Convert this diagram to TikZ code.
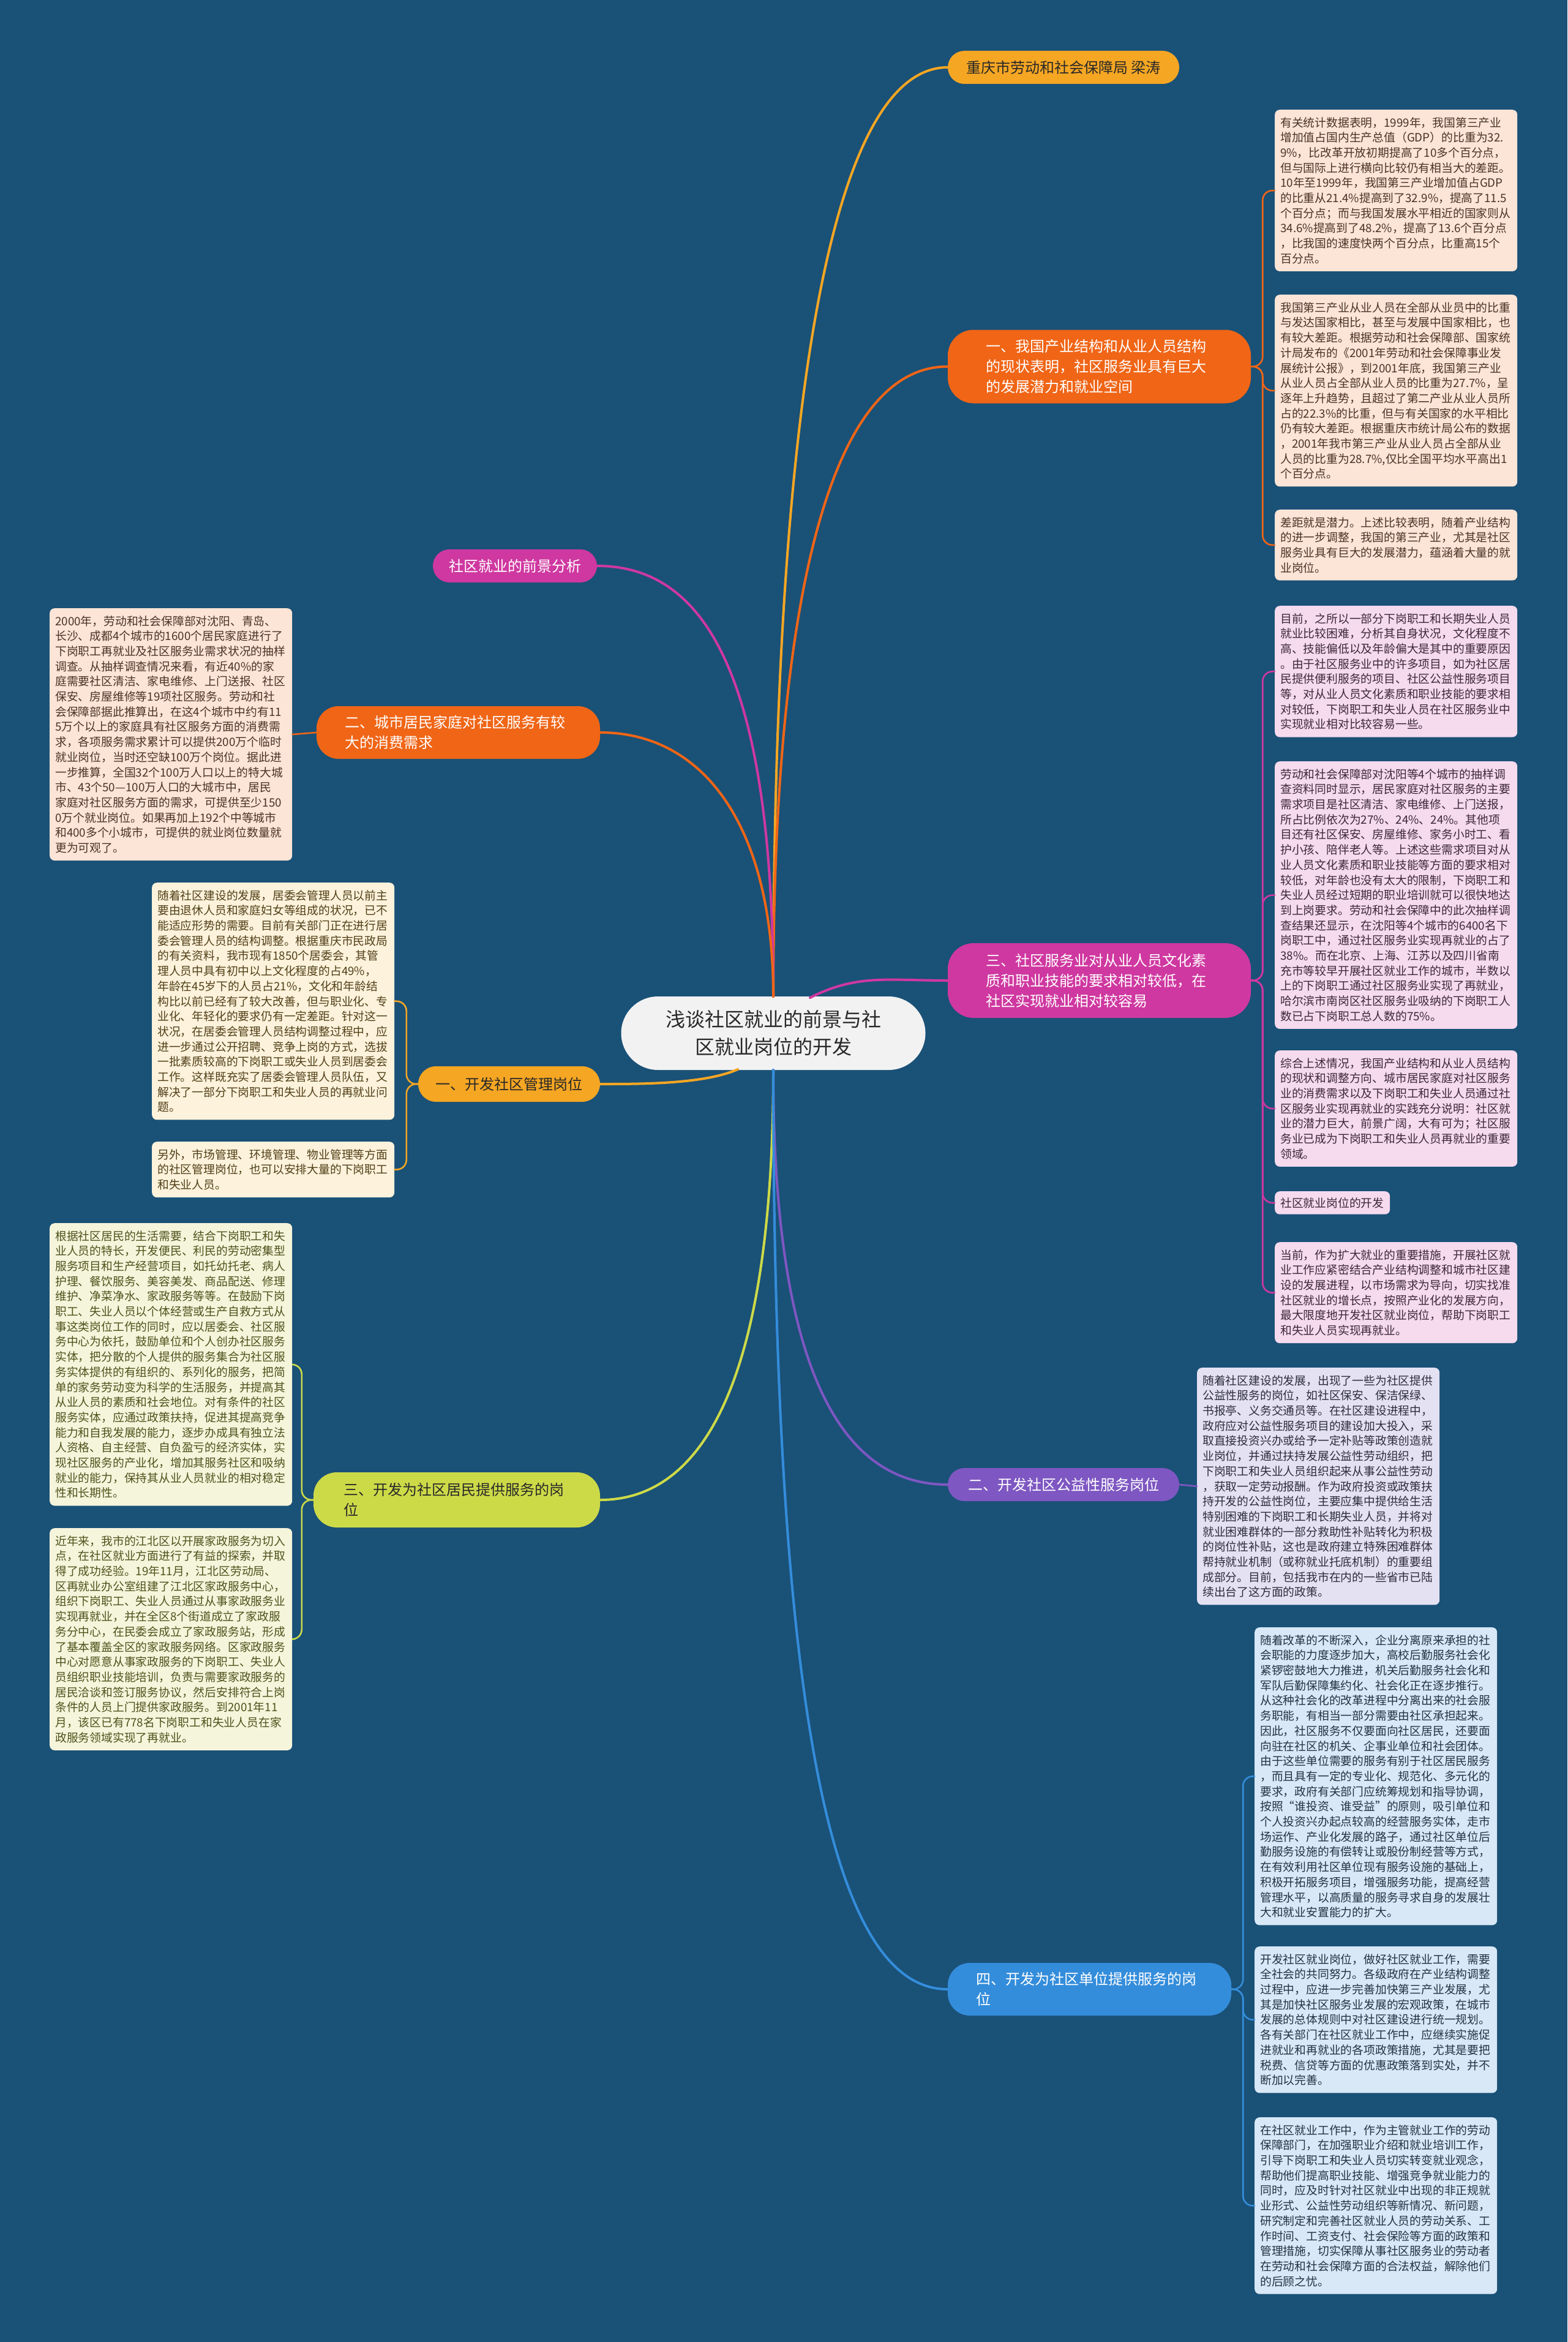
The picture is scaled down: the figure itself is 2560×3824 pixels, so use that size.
\documentclass[tikz,border=0pt]{standalone}
\usepackage{fontspec}
\setmainfont{Noto Sans CJK SC}
\usetikzlibrary{calc}
\definecolor{bg}{RGB}{26,81,119}
\definecolor{camber}{RGB}{245,166,35}
\definecolor{corg}{RGB}{240,101,22}
\definecolor{cmag}{RGB}{207,56,160}
\definecolor{clime}{RGB}{205,218,72}
\definecolor{cpur}{RGB}{126,87,194}
\definecolor{cblue}{RGB}{52,141,219}
\definecolor{fpeach}{RGB}{252,228,214}
\definecolor{fcream}{RGB}{253,242,219}
\definecolor{fivory}{RGB}{245,245,220}
\definecolor{fpink}{RGB}{246,218,238}
\definecolor{flav}{RGB}{228,225,243}
\definecolor{flblue}{RGB}{216,232,246}
\definecolor{tpeach}{RGB}{74,50,36}
\definecolor{tcream}{RGB}{80,64,24}
\definecolor{tivory}{RGB}{78,82,26}
\definecolor{tpink}{RGB}{60,40,56}
\definecolor{tlav}{RGB}{45,45,60}
\definecolor{tlblue}{RGB}{35,50,68}
\definecolor{cdark}{RGB}{40,40,40}
\tikzset{
  box/.style={rounded corners=8pt, text width=378pt, align=left, inner xsep=9pt, inner ysep=12pt,
    font=\fontsize{18.8}{24.7}\selectfont, anchor=north west},
  boxO/.style={box, fill=fpeach, text=tpeach},
  boxA/.style={box, fill=fcream, text=tcream},
  boxY/.style={box, fill=fivory, text=tivory},
  boxM/.style={box, fill=fpink, text=tpink},
  boxP/.style={box, fill=flav, text=tlav},
  boxB/.style={box, fill=flblue, text=tlblue},
  pill/.style={align=left, inner sep=0pt, font=\fontsize{24}{33}\selectfont},
  mainline/.style={line width=4pt, line cap=round},
  subline/.style={line width=2.6pt, rounded corners=16pt, line cap=round},
}
\begin{document}
\begin{tikzpicture}[x=1pt,y=-1pt]
\useasboundingbox (0,0) rectangle (2560,3824);
\fill[bg] (0,0) rectangle (2560,3824);

% ---------- center ----------
\node[fill={rgb,255:red,242;green,242;blue,242}, rounded corners=60pt, minimum width=497pt, minimum height=120pt,
  align=center, font=\fontsize{32}{45}\selectfont, text=cdark] (c) at (1263,1687)
  {浅谈社区就业的前景与社\\区就业岗位的开发};
\coordinate (ct) at (1263,1627);
\coordinate (cb) at (1263,1747);
\coordinate (ctr) at (1323,1629);
\coordinate (cbl) at (1205,1746);

% ---------- branches ----------
\node[pill, fill=camber, text=cdark, minimum width=378pt, minimum height=54pt, rounded corners=27pt] (p0) at (1737,110)
  {重庆市劳动和社会保障局 梁涛};
\node[pill, fill=corg, text=white, minimum width=495pt, minimum height=120pt, rounded corners=42pt, text width=370pt] (p1) at (1795.5,598.5)
  {一、我国产业结构和从业人员结构\\的现状表明，社区服务业具有巨大\\的发展潜力和就业空间};
\node[pill, fill=cmag, text=white, minimum width=268pt, minimum height=54pt, rounded corners=27pt] (pq) at (841,924)
  {社区就业的前景分析};
\node[pill, fill=corg, text=white, minimum width=463pt, minimum height=86pt, rounded corners=36pt, text width=370pt] (p2) at (748.5,1196)
  {二、城市居民家庭对社区服务有较\\大的消费需求};
\node[pill, fill=cmag, text=white, minimum width=495pt, minimum height=122pt, rounded corners=42pt, text width=370pt] (p3) at (1795.5,1601)
  {三、社区服务业对从业人员文化素\\质和职业技能的要求相对较低，在\\社区实现就业相对较容易};
\node[pill, fill=camber, text=cdark, minimum width=297pt, minimum height=58pt, rounded corners=29pt] (pa) at (831.5,1770)
  {一、开发社区管理岗位};
\node[pill, fill=clime, text=cdark, minimum width=468pt, minimum height=90pt, rounded corners=38pt, text width=370pt] (py) at (746,2449)
  {三、开发为社区居民提供服务的岗\\位};
\node[pill, fill=cpur, text=white, minimum width=378pt, minimum height=54pt, rounded corners=27pt] (pp) at (1737,2424)
  {二、开发社区公益性服务岗位};
\node[pill, fill=cblue, text=white, minimum width=463pt, minimum height=86pt, rounded corners=36pt, text width=370pt] (pb) at (1779.5,3248)
  {四、开发为社区单位提供服务的岗\\位};

% ---------- leaf boxes ----------
\node[boxO] (o1) at (2082,179) {有关统计数据表明，1999年，我国第三产业\\增加值占国内生产总值（GDP）的比重为32.\\9\%，比改革开放初期提高了10多个百分点，\\但与国际上进行横向比较仍有相当大的差距。\\10年至1999年，我国第三产业增加值占GDP\\的比重从21.4\%提高到了32.9\%，提高了11.5\\个百分点；而与我国发展水平相近的国家则从\\34.6\%提高到了48.2\%，提高了13.6个百分点\\，比我国的速度快两个百分点，比重高15个\\百分点。};
\node[boxO] (o2) at (2082,481) {我国第三产业从业人员在全部从业员中的比重\\与发达国家相比，甚至与发展中国家相比，也\\有较大差距。根据劳动和社会保障部、国家统\\计局发布的《2001年劳动和社会保障事业发\\展统计公报》，到2001年底，我国第三产业\\从业人员占全部从业人员的比重为27.7\%，呈\\逐年上升趋势，且超过了第二产业从业人员所\\占的22.3\%的比重，但与有关国家的水平相比\\仍有较大差距。根据重庆市统计局公布的数据\\，2001年我市第三产业从业人员占全部从业\\人员的比重为28.7\%,仅比全国平均水平高出1\\个百分点。};
\node[boxO] (o3) at (2082,832) {差距就是潜力。上述比较表明，随着产业结构\\的进一步调整，我国的第三产业，尤其是社区\\服务业具有巨大的发展潜力，蕴涵着大量的就\\业岗位。};

\node[boxM] (m1) at (2082,989) {目前，之所以一部分下岗职工和长期失业人员\\就业比较困难，分析其自身状况，文化程度不\\高、技能偏低以及年龄偏大是其中的重要原因\\。由于社区服务业中的许多项目，如为社区居\\民提供便利服务的项目、社区公益性服务项目\\等，对从业人员文化素质和职业技能的要求相\\对较低，下岗职工和失业人员在社区服务业中\\实现就业相对比较容易一些。};
\node[boxM] (m2) at (2082,1243) {劳动和社会保障部对沈阳等4个城市的抽样调\\查资料同时显示，居民家庭对社区服务的主要\\需求项目是社区清洁、家电维修、上门送报，\\所占比例依次为27\%、24\%、24\%。其他项\\目还有社区保安、房屋维修、家务小时工、看\\护小孩、陪伴老人等。上述这些需求项目对从\\业人员文化素质和职业技能等方面的要求相对\\较低，对年龄也没有太大的限制，下岗职工和\\失业人员经过短期的职业培训就可以很快地达\\到上岗要求。劳动和社会保障中的此次抽样调\\查结果还显示，在沈阳等4个城市的6400名下\\岗职工中，通过社区服务业实现再就业的占了\\38\%。而在北京、上海、江苏以及四川省南\\充市等较早开展社区就业工作的城市，半数以\\上的下岗职工通过社区服务业实现了再就业，\\哈尔滨市南岗区社区服务业吸纳的下岗职工人\\数已占下岗职工总人数的75\%。};
\node[boxM] (m3) at (2082,1715) {综合上述情况，我国产业结构和从业人员结构\\的现状和调整方向、城市居民家庭对社区服务\\业的消费需求以及下岗职工和失业人员通过社\\区服务业实现再就业的实践充分说明：社区就\\业的潜力巨大，前景广阔，大有可为；社区服\\务业已成为下岗职工和失业人员再就业的重要\\领域。};
\node[boxM, text width=170pt, inner ysep=10pt] (m4) at (2082,1945) {社区就业岗位的开发};
\node[boxM] (m5) at (2082,2028) {当前，作为扩大就业的重要措施，开展社区就\\业工作应紧密结合产业结构调整和城市社区建\\设的发展进程，以市场需求为导向，切实找准\\社区就业的增长点，按照产业化的发展方向，\\最大限度地开发社区就业岗位，帮助下岗职工\\和失业人员实现再就业。};

\node[boxO] (l1) at (81,993) {2000年，劳动和社会保障部对沈阳、青岛、\\长沙、成都4个城市的1600个居民家庭进行了\\下岗职工再就业及社区服务业需求状况的抽样\\调查。从抽样调查情况来看，有近40\%的家\\庭需要社区清洁、家电维修、上门送报、社区\\保安、房屋维修等19项社区服务。劳动和社\\会保障部据此推算出，在这4个城市中约有11\\5万个以上的家庭具有社区服务方面的消费需\\求，各项服务需求累计可以提供200万个临时\\就业岗位，当时还空缺100万个岗位。据此进\\一步推算，全国32个100万人口以上的特大城\\市、43个50—100万人口的大城市中，居民\\家庭对社区服务方面的需求，可提供至少150\\0万个就业岗位。如果再加上192个中等城市\\和400多个小城市，可提供的就业岗位数量就\\更为可观了。};

\node[boxA] (a1) at (248,1441) {随着社区建设的发展，居委会管理人员以前主\\要由退休人员和家庭妇女等组成的状况，已不\\能适应形势的需要。目前有关部门正在进行居\\委会管理人员的结构调整。根据重庆市民政局\\的有关资料，我市现有1850个居委会，其管\\理人员中具有初中以上文化程度的占49\%，\\年龄在45岁下的人员占21\%，文化和年龄结\\构比以前已经有了较大改善，但与职业化、专\\业化、年轻化的要求仍有一定差距。针对这一\\状况，在居委会管理人员结构调整过程中，应\\进一步通过公开招聘、竞争上岗的方式，选拔\\一批素质较高的下岗职工或失业人员到居委会\\工作。这样既充实了居委会管理人员队伍，又\\解决了一部分下岗职工和失业人员的再就业问\\题。};
\node[boxA] (a2) at (248,1864) {另外，市场管理、环境管理、物业管理等方面\\的社区管理岗位，也可以安排大量的下岗职工\\和失业人员。};

\node[boxY] (y1) at (81,1997) {根据社区居民的生活需要，结合下岗职工和失\\业人员的特长，开发便民、利民的劳动密集型\\服务项目和生产经营项目，如托幼托老、病人\\护理、餐饮服务、美容美发、商品配送、修理\\维护、净菜净水、家政服务等等。在鼓励下岗\\职工、失业人员以个体经营或生产自救方式从\\事这类岗位工作的同时，应以居委会、社区服\\务中心为依托，鼓励单位和个人创办社区服务\\实体，把分散的个人提供的服务集合为社区服\\务实体提供的有组织的、系列化的服务，把简\\单的家务劳动变为科学的生活服务，并提高其\\从业人员的素质和社会地位。对有条件的社区\\服务实体，应通过政策扶持，促进其提高竞争\\能力和自我发展的能力，逐步办成具有独立法\\人资格、自主经营、自负盈亏的经济实体，实\\现社区服务的产业化，增加其服务社区和吸纳\\就业的能力，保持其从业人员就业的相对稳定\\性和长期性。};
\node[boxY] (y2) at (81,2495) {近年来，我市的江北区以开展家政服务为切入\\点，在社区就业方面进行了有益的探索，并取\\得了成功经验。19年11月，江北区劳动局、\\区再就业办公室组建了江北区家政服务中心，\\组织下岗职工、失业人员通过从事家政服务业\\实现再就业，并在全区8个街道成立了家政服\\务分中心，在民委会成立了家政服务站，形成\\了基本覆盖全区的家政服务网络。区家政服务\\中心对愿意从事家政服务的下岗职工、失业人\\员组织职业技能培训，负责与需要家政服务的\\居民洽谈和签订服务协议，然后安排符合上岗\\条件的人员上门提供家政服务。到2001年11\\月，该区已有778名下岗职工和失业人员在家\\政服务领域实现了再就业。};

\node[boxP] (q1) at (1955,2233) {随着社区建设的发展，出现了一些为社区提供\\公益性服务的岗位，如社区保安、保洁保绿、\\书报亭、义务交通员等。在社区建设进程中，\\政府应对公益性服务项目的建设加大投入，采\\取直接投资兴办或给予一定补贴等政策创造就\\业岗位，并通过扶持发展公益性劳动组织，把\\下岗职工和失业人员组织起来从事公益性劳动\\，获取一定劳动报酬。作为政府投资或政策扶\\持开发的公益性岗位，主要应集中提供给生活\\特别困难的下岗职工和长期失业人员，并将对\\就业困难群体的一部分救助性补贴转化为积极\\的岗位性补贴，这也是政府建立特殊困难群体\\帮持就业机制（或称就业托底机制）的重要组\\成部分。目前，包括我市在内的一些省市已陆\\续出台了这方面的政策。};

\node[boxB] (b1) at (2049,2657) {随着改革的不断深入，企业分离原来承担的社\\会职能的力度逐步加大，高校后勤服务社会化\\紧锣密鼓地大力推进，机关后勤服务社会化和\\军队后勤保障集约化、社会化正在逐步推行。\\从这种社会化的改革进程中分离出来的社会服\\务职能，有相当一部分需要由社区承担起来。\\因此，社区服务不仅要面向社区居民，还要面\\向驻在社区的机关、企事业单位和社会团体。\\由于这些单位需要的服务有别于社区居民服务\\，而且具有一定的专业化、规范化、多元化的\\要求，政府有关部门应统筹规划和指导协调，\\按照“谁投资、谁受益”的原则，吸引单位和\\个人投资兴办起点较高的经营服务实体，走市\\场运作、产业化发展的路子，通过社区单位后\\勤服务设施的有偿转让或股份制经营等方式，\\在有效利用社区单位现有服务设施的基础上，\\积极开拓服务项目，增强服务功能，提高经营\\管理水平，以高质量的服务寻求自身的发展壮\\大和就业安置能力的扩大。};
\node[boxB] (b2) at (2049,3178) {开发社区就业岗位，做好社区就业工作，需要\\全社会的共同努力。各级政府在产业结构调整\\过程中，应进一步完善加快第三产业发展，尤\\其是加快社区服务业发展的宏观政策，在城市\\发展的总体规则中对社区建设进行统一规划。\\各有关部门在社区就业工作中，应继续实施促\\进就业和再就业的各项政策措施，尤其是要把\\税费、信贷等方面的优惠政策落到实处，并不\\断加以完善。};
\node[boxB] (b3) at (2049,3457) {在社区就业工作中，作为主管就业工作的劳动\\保障部门，在加强职业介绍和就业培训工作，\\引导下岗职工和失业人员切实转变就业观念，\\帮助他们提高职业技能、增强竞争就业能力的\\同时，应及时针对社区就业中出现的非正规就\\业形式、公益性劳动组织等新情况、新问题，\\研究制定和完善社区就业人员的劳动关系、工\\作时间、工资支付、社会保险等方面的政策和\\管理措施，切实保障从事社区服务业的劳动者\\在劳动和社会保障方面的合法权益，解除他们\\的后顾之忧。};

% ---------- main connectors ----------
\draw[mainline, camber] (ct) .. controls (1263,700) and (1350,110) .. (p0.west);
\draw[mainline, corg] (ct) .. controls (1263,1000) and (1350,598) .. (p1.west);
\draw[mainline, cmag] (ct) .. controls (1263,1100) and (1150,924) .. (pq.east);
\draw[mainline, corg] (ct) .. controls (1263,1350) and (1150,1196) .. (p2.east);
\draw[mainline, cmag] (ctr) .. controls (1400,1590) and (1450,1601) .. (p3.west);
\draw[mainline, camber] (cbl) .. controls (1150,1770) and (1050,1770) .. (pa.east);
\draw[mainline, clime] (cb) .. controls (1263,2250) and (1150,2449) .. (py.east);
\draw[mainline, cpur] (cb) .. controls (1263,2250) and (1380,2424) .. (pp.west);
\draw[mainline, cblue] (cb) .. controls (1263,2900) and (1380,3248) .. (pb.west);

% ---------- child connectors ----------
\foreach \k in {o1,o2,o3} \draw[subline, corg] (p1.east) -- ++(19,0) |- (\k.west);
\foreach \k in {m1,m2,m3,m4,m5} \draw[subline, cmag] (p3.east) -- ++(19,0) |- (\k.west);
\foreach \k in {b1,b2,b3} \draw[subline, cblue] (pb.east) -- ++(19,0) |- (\k.west);
\foreach \k in {a1,a2} \draw[subline, camber] (pa.west) -- ++(-19,0) |- (\k.east);
\foreach \k in {y1,y2} \draw[subline, clime] (py.west) -- ++(-19,0) |- (\k.east);
\draw[subline, corg] (p2.west) -- (l1.east);
\draw[subline, cpur] (pp.east) -- (q1.west);
\end{tikzpicture}
\end{document}
